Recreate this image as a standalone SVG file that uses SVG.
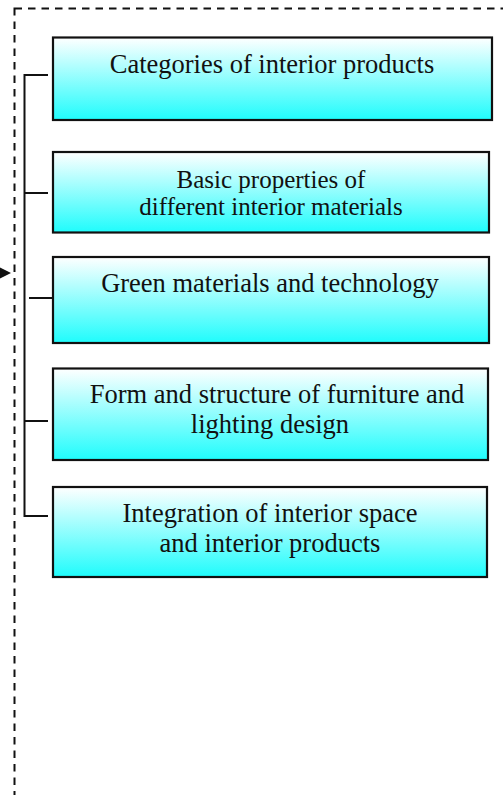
<svg xmlns="http://www.w3.org/2000/svg" width="503" height="795" viewBox="0 0 503 795">
<defs>
<linearGradient id="g" x1="0" y1="0" x2="0" y2="1">
<stop offset="0" stop-color="#ffffff"/>
<stop offset="1" stop-color="#1ffcfc"/>
</linearGradient>
<style>
.box{fill:url(#g);stroke:#111;stroke-width:2.2}
.t{font-family:"Liberation Serif","Times New Roman",serif;font-size:26.5px;fill:#111;text-anchor:middle}
.s{font-size:25px}
.c{stroke:#111;stroke-width:2;fill:none}
.d{fill:none;stroke:#111;stroke-width:2;stroke-dasharray:7.5 6}
</style>
</defs>
<rect class="d" x="14.5" y="8.5" width="520" height="820"/>
<g id="connectors">
<polygon points="0,267.5 11,273 0,278.5" fill="#111"/>
<line class="c" x1="24.5" y1="74" x2="24.5" y2="517"/>
<line class="c" x1="24.5" y1="75" x2="48" y2="75"/>
<line class="c" x1="24.5" y1="193" x2="48" y2="193"/>
<line class="c" x1="29" y1="298" x2="53" y2="298"/>
<line class="c" x1="24.5" y1="421" x2="48" y2="421"/>
<line class="c" x1="24.5" y1="516" x2="48" y2="516"/>
</g>
<g id="n1">
<rect class="box" x="53" y="37.5" width="439" height="82.5"/>
<text class="t" x="272" y="73">Categories of interior products</text>
</g>
<g id="n2">
<rect class="box" x="53" y="152" width="436" height="80.5"/>
<text class="t s" x="271" y="188">Basic properties of</text>
<text class="t s" x="271" y="215">different interior materials</text>
</g>
<g id="n3">
<rect class="box" x="53" y="257" width="436" height="86"/>
<text class="t" x="270" y="292">Green materials and technology</text>
</g>
<g id="n4">
<rect class="box" x="53" y="368.5" width="435" height="91.5"/>
<text class="t" x="277" y="403">Form and structure of furniture and</text>
<text class="t" x="270" y="433">lighting design</text>
</g>
<g id="n5">
<rect class="box" x="53" y="487" width="434" height="90"/>
<text class="t" x="270" y="522">Integration of interior space</text>
<text class="t" x="270" y="552">and interior products</text>
</g>
</svg>
